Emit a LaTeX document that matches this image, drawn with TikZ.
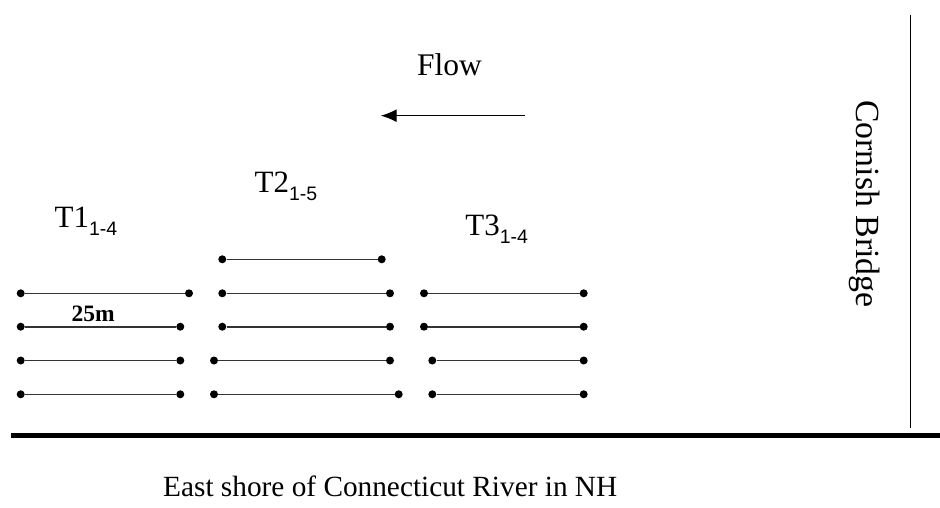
\documentclass[tikz,border=0pt]{standalone}
\usepackage{fontspec}
\setmainfont{Liberation Serif}
\setsansfont{Liberation Sans}
\usetikzlibrary{arrows.meta}
\tikzset{
  dot/.style={circle,fill=black,inner sep=0pt,minimum size=8pt},
  tline/.style={line width=1.6pt,draw=black!80},
  lbl/.style={inner sep=0pt,anchor=base west},
}
\newcommand{\transect}[4]{%
  \node[dot] (#1a) at (#2,#4) {};
  \node[dot] (#1b) at (#3,#4) {};
  \draw[tline] (#1a) -- (#1b);}
\newcommand{\tlab}[2]{{\fontsize{31}{31}\selectfont T#1\raisebox{-8.5pt}{\sffamily\fontsize{19.5}{19.5}\selectfont #2}}}
\begin{document}
\begin{tikzpicture}[x=1pt,y=-1pt]
\useasboundingbox (0,0) rectangle (940,508);
% T1
\transect{ta}{20.7}{189}{293.3}
\transect{tb}{20.7}{180.3}{326.7}
\transect{tc}{20.7}{180.3}{360.5}
\transect{td}{20.7}{180.3}{394.3}
% T2
\transect{ua}{222.3}{381.7}{259.3}
\transect{ub}{222.3}{390}{293.3}
\transect{uc}{222.3}{390}{326.7}
\transect{ud}{214}{390}{360.5}
\transect{ue}{214}{398.7}{394.3}
% T3
\transect{va}{424}{583.7}{293.3}
\transect{vb}{424}{583.7}{326.7}
\transect{vc}{432.3}{583.7}{360.5}
\transect{vd}{432.3}{583.7}{394.3}
% labels
\node[lbl] (l1) at (54.5,227.3) {\tlab{1}{1-4}};
\node[lbl] (l2) at (254.5,192.3) {\tlab{2}{1-5}};
\node[lbl] (l3) at (465.2,235) {\tlab{3}{1-4}};
\node[lbl] (l25) at (71.5,321) {\fontsize{23.5}{23.5}\selectfont\bfseries 25m};
\node[lbl] (flow) at (417,75.7) {\fontsize{31.5}{31.5}\selectfont Flow};
\node[lbl] (shore) at (163,496) {\fontsize{29.3}{30}\selectfont East shore of Connecticut River in NH};
\node[lbl,rotate=-90] (bridge) at (856,100) {\fontsize{33.8}{34}\selectfont Cornish Bridge};
% flow arrow
\coordinate (fs) at (525,115.7);
\coordinate (fe) at (380.7,115.7);
\draw[line width=1.4pt,-{Latex[length=16pt,width=13pt]}] (fs) -- (fe);
% shore and bridge
\coordinate (sh1) at (11,435.5);
\coordinate (sh2) at (940,435.5);
\draw[line width=4.2pt] (sh1) -- (sh2);
\coordinate (br1) at (910.7,15);
\coordinate (br2) at (910.7,428.3);
\draw[line width=1.3pt] (br1) -- (br2);
\end{tikzpicture}
\end{document}
